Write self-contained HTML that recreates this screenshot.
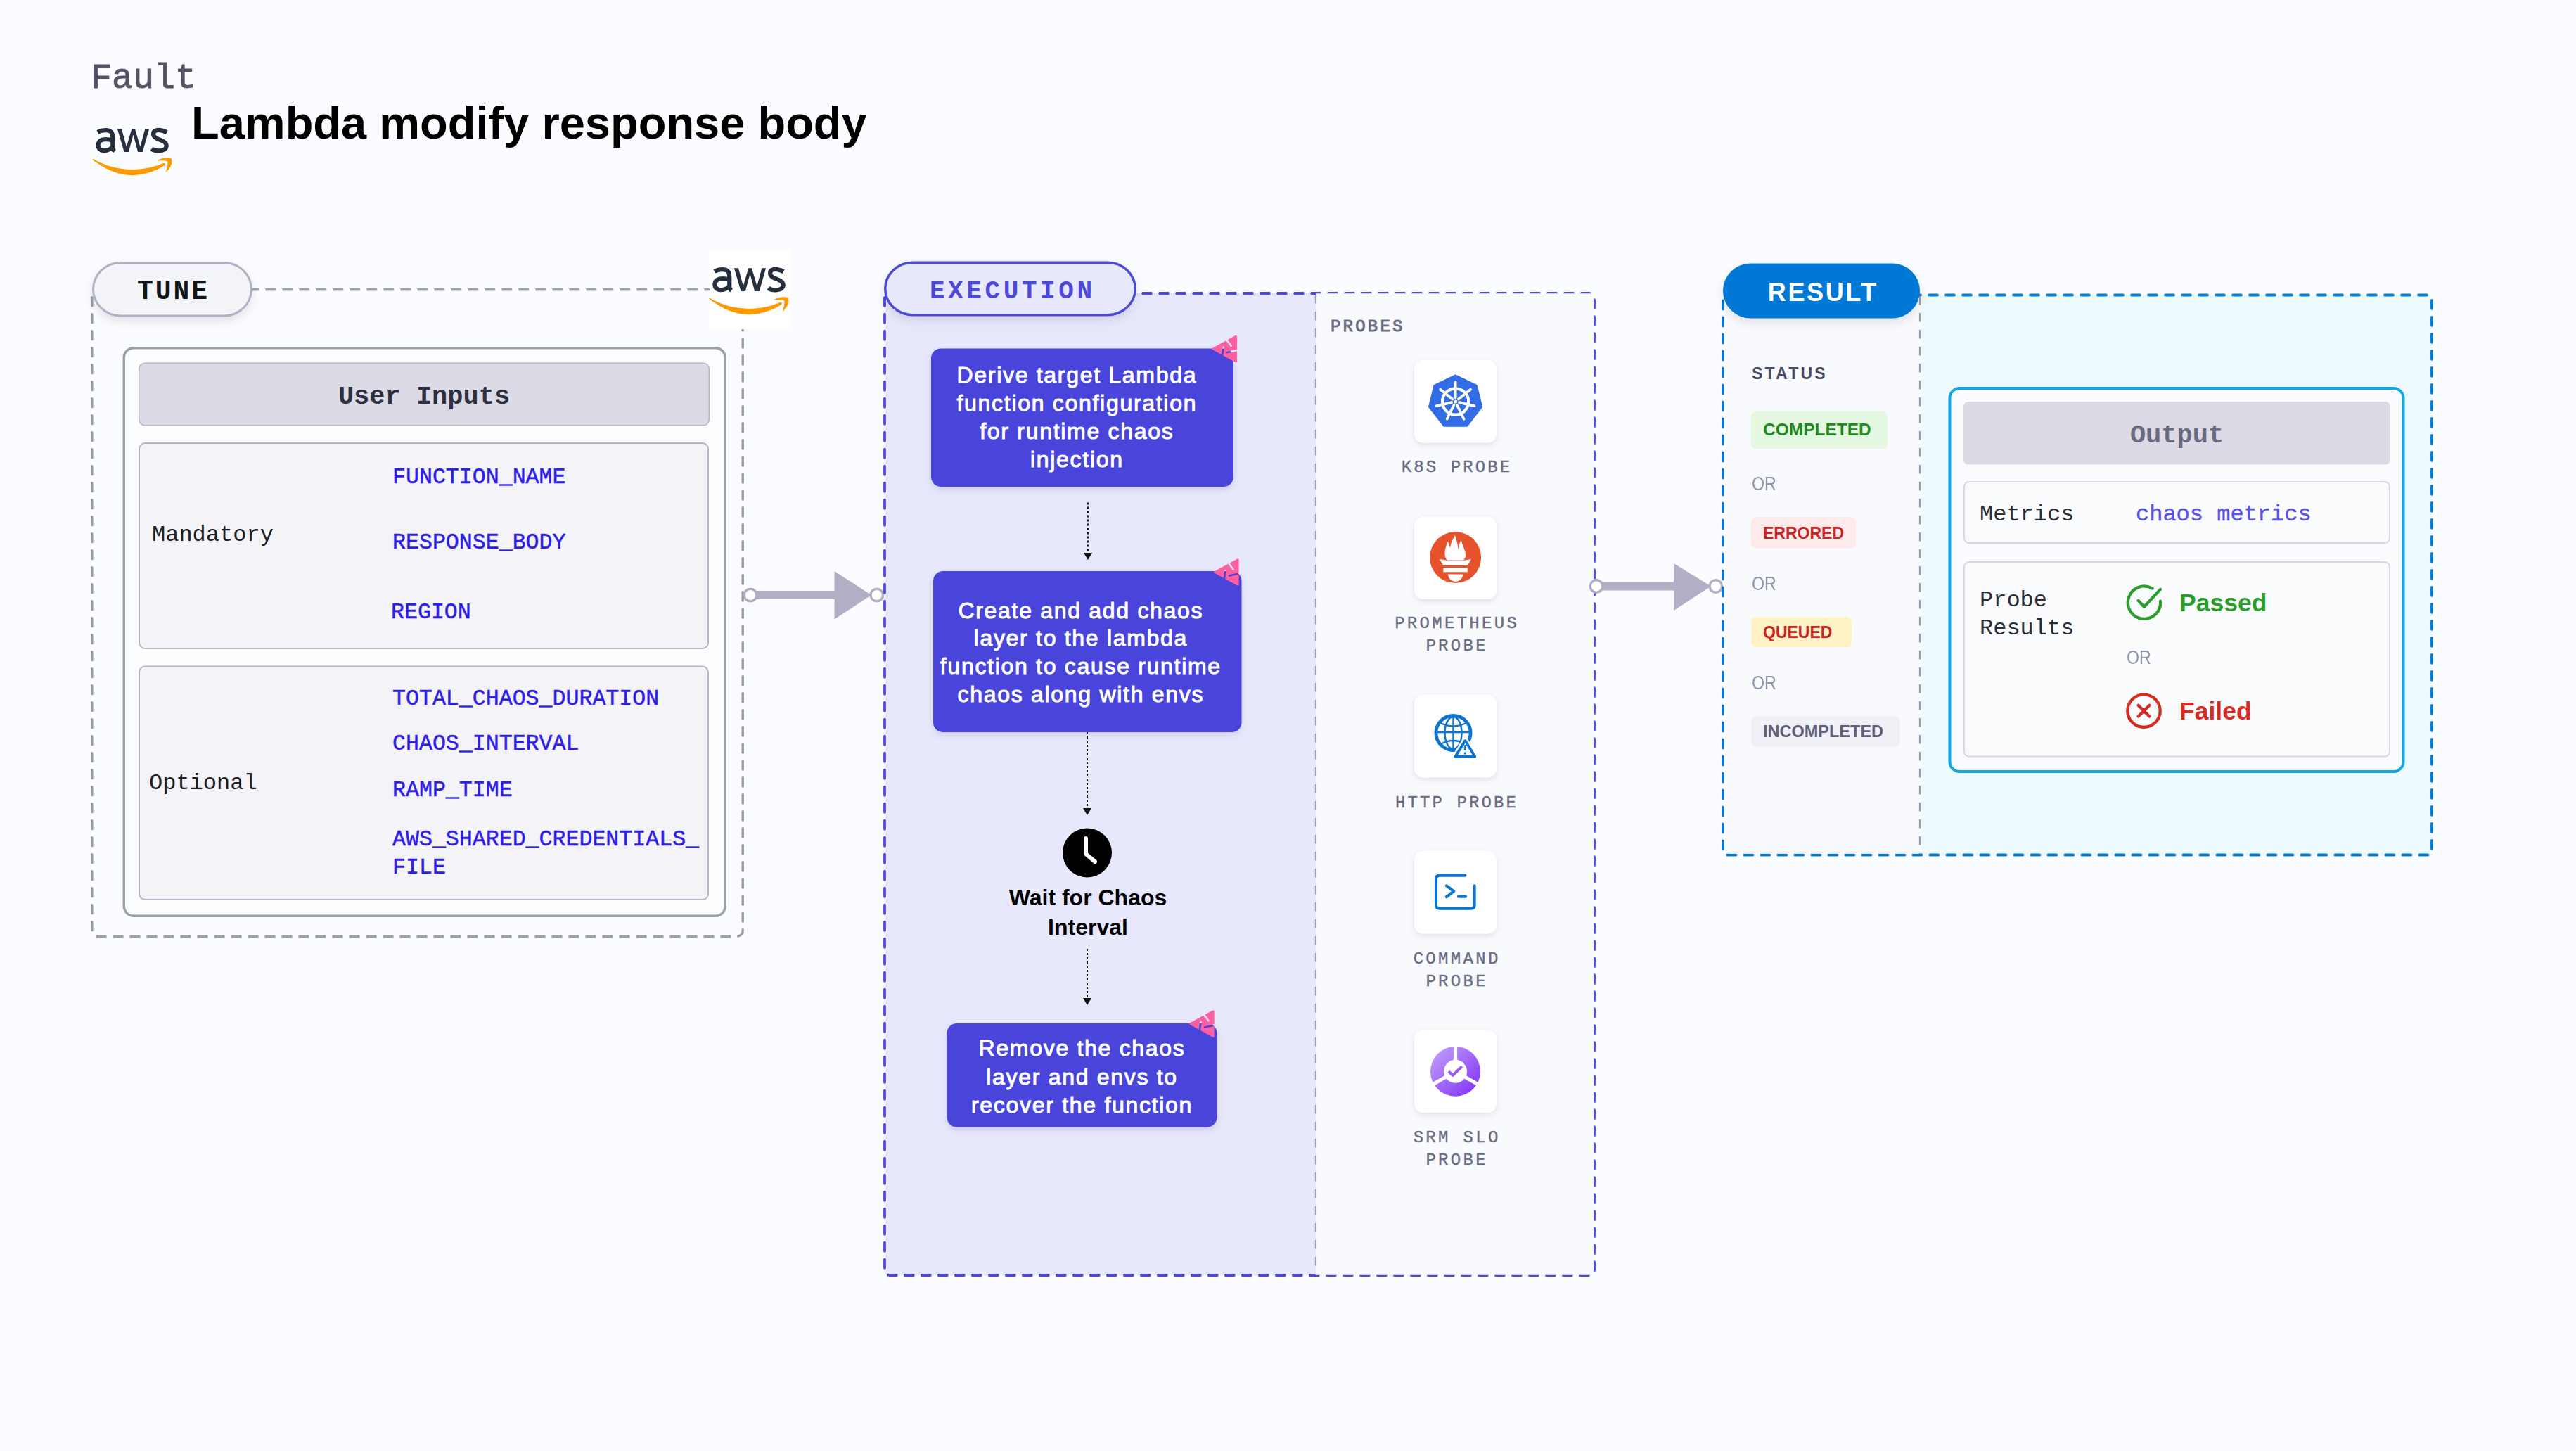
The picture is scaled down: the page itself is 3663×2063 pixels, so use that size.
<!DOCTYPE html>
<html><head><meta charset="utf-8"><title>Lambda modify response body</title>
<style>
html,body{margin:0;padding:0;}
body{width:3663px;height:2063px;background:#FBFCFF;position:relative;overflow:hidden;font-family:"Liberation Sans",sans-serif;}
svg.bg{position:absolute;left:0;top:0;}
.t{position:absolute;white-space:nowrap;}
</style></head><body>
<svg class="bg" width="3663" height="2063" viewBox="0 0 3663 2063">
<defs><filter id="sh" x="-20%" y="-30%" width="140%" height="180%"><feDropShadow dx="0" dy="6" stdDeviation="7" flood-color="#000" flood-opacity="0.10"/></filter><filter id="sh2" x="-10%" y="-10%" width="120%" height="130%"><feDropShadow dx="0" dy="4" stdDeviation="5" flood-color="#1a1060" flood-opacity="0.12"/></filter><filter id="sh3" x="-20%" y="-20%" width="140%" height="150%"><feDropShadow dx="0" dy="3" stdDeviation="4" flood-color="#000" flood-opacity="0.10"/></filter></defs>
<g transform="translate(125,175) scale(0.05513)"><g fill="none" stroke="#252F3E" stroke-width="112"><path d="M250,232 Q420,152 558,200 Q640,240 640,370 L640,640 Q645,690 690,725"/><path d="M640,445 Q500,405 385,425 Q262,455 262,580 Q268,705 420,712 Q560,705 640,610"/><path d="M2035,240 Q1885,162 1765,185 Q1680,208 1688,300 Q1705,380 1865,432 Q2030,490 2028,590 Q2015,705 1840,715 Q1720,720 1640,665"/></g><path fill="#252F3E" d="M760,150 L870,150 L995,610 L1130,150 L1215,150 L1350,610 L1475,150 L1580,150 L1410,745 L1290,745 L1170,300 L1050,745 L935,745 Z"/><path fill="#FF9900" d="M115,945 C520,1250 850,1345 1140,1345 C1450,1345 1760,1230 1975,1095 C2010,1065 1985,1020 1945,1035 C1700,1140 1450,1195 1140,1195 C800,1195 450,1110 135,920 Z"/><path fill="#FF9900" d="M1785,970 C1900,890 2060,880 2140,905 C2175,925 2170,1010 2150,1080 C2110,1170 2060,1230 2010,1270 C2040,1160 2070,1060 2050,990 C2030,960 1900,960 1785,975 Z"/></g>
<rect x="130.80" y="411.80" width="925.40" height="919.40" rx="8" fill="none" stroke="#9CA0A6" stroke-width="3.6" stroke-dasharray="12 12" stroke-linecap="round" />
<rect x="1009" y="355" width="114" height="113" fill="#FFFFFF"/><g transform="translate(1002,373) scale(0.05513)"><g fill="none" stroke="#252F3E" stroke-width="112"><path d="M250,232 Q420,152 558,200 Q640,240 640,370 L640,640 Q645,690 690,725"/><path d="M640,445 Q500,405 385,425 Q262,455 262,580 Q268,705 420,712 Q560,705 640,610"/><path d="M2035,240 Q1885,162 1765,185 Q1680,208 1688,300 Q1705,380 1865,432 Q2030,490 2028,590 Q2015,705 1840,715 Q1720,720 1640,665"/></g><path fill="#252F3E" d="M760,150 L870,150 L995,610 L1130,150 L1215,150 L1350,610 L1475,150 L1580,150 L1410,745 L1290,745 L1170,300 L1050,745 L935,745 Z"/><path fill="#FF9900" d="M115,945 C520,1250 850,1345 1140,1345 C1450,1345 1760,1230 1975,1095 C2010,1065 1985,1020 1945,1035 C1700,1140 1450,1195 1140,1195 C800,1195 450,1110 135,920 Z"/><path fill="#FF9900" d="M1785,970 C1900,890 2060,880 2140,905 C2175,925 2170,1010 2150,1080 C2110,1170 2060,1230 2010,1270 C2040,1160 2070,1060 2050,990 C2030,960 1900,960 1785,975 Z"/></g>
<rect x="132.50" y="373.50" width="225.00" height="75.50" rx="39" fill="#F3F4F8" stroke="#B1B0C6" stroke-width="3" filter="url(#sh)"/>
<rect x="176.25" y="494.75" width="855.00" height="807.50" rx="14" fill="#FCFDFE" stroke="#9AA0A6" stroke-width="3.5" />
<rect x="197.75" y="516.25" width="810.50" height="88.50" rx="8" fill="#DCDBE5" stroke="#B6B5C8" stroke-width="1.5" />
<rect x="198.00" y="630.00" width="809.00" height="292.00" rx="8" fill="#F3F3F8" stroke="#B6B5C8" stroke-width="2" />
<rect x="198.00" y="947.50" width="809.00" height="331.50" rx="8" fill="#F3F3F8" stroke="#B6B5C8" stroke-width="2" />
<rect x="1066" y="840" width="122.5" height="12" fill="#B0AFC5"/>
<path d="M1186.5,812 L1239,846 L1186.5,880.5 Z" fill="#B0AFC5"/>
<circle cx="1067" cy="846" r="8.8" fill="#FFFFFF" stroke="#B0AFC5" stroke-width="3.4"/>
<circle cx="1246.8" cy="846" r="8.8" fill="#FFFFFF" stroke="#B0AFC5" stroke-width="3.4"/>
<path d="M1264,417 L1871,417 L1871,1813 L1264,1813 Q1258,1813 1258,1807 L1258,423 Q1258,417 1264,417 Z" fill="#E8E8FD"/>
<rect x="1258.00" y="417.00" width="1009.00" height="1396.00" rx="7" fill="none" stroke="#4D48D9" stroke-width="3.8" stroke-dasharray="12 12" stroke-linecap="round" />
<path d="M1871,417.2 L2266.2,417.2 L2266.2,1805 Q2266.2,1812.7 2258,1812.7 L1871,1812.7 Z" fill="#F9FAFE"/>
<line x1="1871" y1="419" x2="1871" y2="1812" stroke="#9A9BAF" stroke-width="2.2" stroke-dasharray="12.5 11.5"/>
<rect x="1258.75" y="373.25" width="355.50" height="74.50" rx="39" fill="#E8E8FC" stroke="#4D48D9" stroke-width="3.5" filter="url(#sh)"/>
<rect x="1324.00" y="495.50" width="430.00" height="196.50" rx="14" fill="#4A45DB" stroke="none" stroke-width="0" filter="url(#sh2)"/>
<g transform="translate(1723.2,476.5) scale(1.0)"><mask id="bm1" maskUnits="userSpaceOnUse" x="-5" y="-5" width="50" height="50"><path d="M34.3,1.5 L1.5,19.5 L34.3,37.5 Z" fill="#fff" stroke="#fff" stroke-width="3" stroke-linejoin="round"/><path d="M19.5,5 L27.6,15.2 M16.6,17 L14.6,30 M22,24.4 L36,21.6" stroke="#000" stroke-width="2.6" stroke-linecap="round"/></mask><path mask="url(#bm1)" d="M34.3,1.5 L1.5,19.5 L34.3,37.5 Z" fill="#FF5EA0" stroke="#FF5EA0" stroke-width="3" stroke-linejoin="round"/></g>
<rect x="1327.00" y="812.00" width="438.50" height="229.00" rx="14" fill="#4A45DB" stroke="none" stroke-width="0" filter="url(#sh2)"/>
<g transform="translate(1726,794) scale(1.0)"><mask id="bm2" maskUnits="userSpaceOnUse" x="-5" y="-5" width="50" height="50"><path d="M34.3,1.5 L1.5,19.5 L34.3,37.5 Z" fill="#fff" stroke="#fff" stroke-width="3" stroke-linejoin="round"/><path d="M19.5,5 L27.6,15.2 M16.6,17 L14.6,30 M22,24.4 L36,21.6" stroke="#000" stroke-width="2.6" stroke-linecap="round"/></mask><path mask="url(#bm2)" d="M34.3,1.5 L1.5,19.5 L34.3,37.5 Z" fill="#FF5EA0" stroke="#FF5EA0" stroke-width="3" stroke-linejoin="round"/></g>
<rect x="1346.50" y="1455.00" width="384.00" height="147.50" rx="14" fill="#4A45DB" stroke="none" stroke-width="0" filter="url(#sh2)"/>
<g transform="translate(1691,1436) scale(1.0)"><mask id="bm3" maskUnits="userSpaceOnUse" x="-5" y="-5" width="50" height="50"><path d="M34.3,1.5 L1.5,19.5 L34.3,37.5 Z" fill="#fff" stroke="#fff" stroke-width="3" stroke-linejoin="round"/><path d="M19.5,5 L27.6,15.2 M16.6,17 L14.6,30 M22,24.4 L36,21.6" stroke="#000" stroke-width="2.6" stroke-linecap="round"/></mask><path mask="url(#bm3)" d="M34.3,1.5 L1.5,19.5 L34.3,37.5 Z" fill="#FF5EA0" stroke="#FF5EA0" stroke-width="3" stroke-linejoin="round"/></g>
<line x1="1547" y1="714.5" x2="1547" y2="788" stroke="#111" stroke-width="2" stroke-dasharray="3 3"/>
<path d="M1541,786 L1553,786 L1547,796 Z" fill="#111"/>
<line x1="1546" y1="1041" x2="1546" y2="1151" stroke="#111" stroke-width="2" stroke-dasharray="3 3"/>
<path d="M1540,1149 L1552,1149 L1546,1159 Z" fill="#111"/>
<line x1="1546" y1="1349" x2="1546" y2="1421" stroke="#111" stroke-width="2" stroke-dasharray="3 3"/>
<path d="M1540,1419 L1552,1419 L1546,1429 Z" fill="#111"/>
<circle cx="1546" cy="1212.5" r="35" fill="#000"/>
<path d="M1544,1192 L1544,1214 L1557,1225" fill="none" stroke="#fff" stroke-width="6" stroke-linecap="round" stroke-linejoin="round"/>
<rect x="2011.00" y="512.00" width="117.00" height="117.50" rx="13" fill="#FFFFFF" stroke="none" stroke-width="0" filter="url(#sh3)"/>
<rect x="2011.00" y="734.50" width="117.00" height="117.50" rx="13" fill="#FFFFFF" stroke="none" stroke-width="0" filter="url(#sh3)"/>
<rect x="2011.00" y="988.00" width="117.00" height="117.50" rx="13" fill="#FFFFFF" stroke="none" stroke-width="0" filter="url(#sh3)"/>
<rect x="2011.00" y="1210.00" width="117.00" height="117.50" rx="13" fill="#FFFFFF" stroke="none" stroke-width="0" filter="url(#sh3)"/>
<rect x="2011.00" y="1464.50" width="117.00" height="117.50" rx="13" fill="#FFFFFF" stroke="none" stroke-width="0" filter="url(#sh3)"/>
<rect x="2269" y="827.5" width="113" height="12" fill="#B0AFC5"/>
<path d="M2380,801 L2433,833.5 L2380,868 Z" fill="#B0AFC5"/>
<circle cx="2270" cy="833.5" r="8.8" fill="#FFFFFF" stroke="#B0AFC5" stroke-width="3.4"/>
<circle cx="2439.8" cy="833.5" r="8.8" fill="#FFFFFF" stroke="#B0AFC5" stroke-width="3.4"/>
<path d="M2069.6,533.1 L2099.9,547.6 L2107.5,578.6 L2086.2,606.1 L2053.1,606.1 L2031.7,578.6 L2039.3,547.6 Z" fill="#326DE6" stroke="#326DE6" stroke-width="1.5" stroke-linejoin="round"/>
<circle cx="2069.6" cy="571" r="18.6" fill="none" stroke="#fff" stroke-width="4.2"/>
<circle cx="2069.6" cy="571" r="2.6" fill="#fff"/>
<path d="M2069.60,565.50 L2069.60,543.50 M2073.90,567.57 L2091.10,553.85 M2074.96,572.22 L2096.41,577.12 M2071.99,575.96 L2081.53,595.78 M2067.21,575.96 L2057.67,595.78 M2064.24,572.22 L2042.79,577.12 M2065.30,567.57 L2048.10,553.85 " stroke="#fff" stroke-width="3.8" stroke-linecap="round"/>
<circle cx="2069.6" cy="792.6" r="36.5" fill="#E6522C"/>
<g transform="translate(2069.6,792.6)" fill="#fff"><path d="M-11.5,4 C-17,-1 -16,-10 -10.7,-23 C-9,-18 -8.2,-15 -7.5,-13.5 C-6.5,-22 -3,-27 -0.7,-31.7 C1.5,-25 3.5,-19 3.8,-11.5 C4.5,-17 6.5,-22 8.3,-25.5 C9,-17 15,-10 14.5,-2.5 C14.3,0.5 12.5,3 11.5,4 Z"/><path d="M-22.7,2.4 L-12,4.2 L12,4.2 L22.4,2.4 L17.2,11.4 L-17.2,11.4 Z"/><rect x="-17.2" y="14.5" width="34.4" height="6.2"/><path d="M-10.5,23.8 L10.5,23.8 A10.5,10.5 0 0 1 -10.5,23.8 Z"/></g>
<defs><mask id="hm"><rect x="2000" y="980" width="140" height="130" fill="#fff"/><path d="M2083.4,1053 L2069.5,1075.6 L2097.3,1075.6 Z" fill="#000" stroke="#000" stroke-width="8.6" stroke-linejoin="round"/></mask></defs>
<g mask="url(#hm)" fill="none" stroke="#0B74D2"><circle cx="2066.5" cy="1042" r="24.6" stroke-width="4.8"/><ellipse cx="2066.5" cy="1042" rx="12" ry="23" stroke-width="2.5"/><line x1="2066.5" y1="1019" x2="2066.5" y2="1066" stroke-width="2.4"/><line x1="2042.5" y1="1041" x2="2090.5" y2="1041" stroke-width="2.4"/><path d="M2048.5,1028 Q2066.5,1037 2084.5,1028" stroke-width="2.4"/><path d="M2048.5,1058 Q2066.5,1048 2084.5,1058" stroke-width="2.4"/></g>
<path d="M2083.4,1053 L2069.5,1075.6 L2097.3,1075.6 Z" fill="none" stroke="#0B74D2" stroke-width="3.8" stroke-linejoin="round"/>
<line x1="2083.3" y1="1059" x2="2083.3" y2="1067" stroke="#0B74D2" stroke-width="3"/>
<circle cx="2083.3" cy="1071" r="1.8" fill="#0B74D2"/>
<path d="M2083.4,1244.6 L2047,1244.6 Q2042,1244.6 2042,1249.6 L2042,1286.7 Q2042,1291.7 2047,1291.7 L2091.6,1291.7 Q2096.6,1291.7 2096.6,1286.7 L2096.6,1259.3" fill="none" stroke="#0B74D2" stroke-width="4.1" stroke-linecap="round"/>
<path d="M2057,1259.3 L2067.2,1267.2 L2057,1275.2" fill="none" stroke="#0B74D2" stroke-width="4.1" stroke-linecap="round" stroke-linejoin="round"/>
<path d="M2073.8,1274.8 L2084.1,1274.8" fill="none" stroke="#0B74D2" stroke-width="4.1" stroke-linecap="round"/>
<defs><linearGradient id="srg" x1="0" y1="0" x2="1" y2="1"><stop offset="0" stop-color="#C4A6FC"/><stop offset="1" stop-color="#7F2AF6"/></linearGradient></defs>
<circle cx="2069.5" cy="1523.3" r="35.5" fill="url(#srg)"/>
<circle cx="2069.5" cy="1523.3" r="16.5" fill="#fff"/>
<path d="M2069.50,1523.30 L2069.50,1483.30 M2069.50,1523.30 L2104.14,1543.30 M2069.50,1523.30 L2034.86,1543.30 " stroke="#fff" stroke-width="5.2"/>
<path d="M2061,1524.3 L2065.8,1528.8 L2077.5,1517.5" fill="none" stroke="#9A5AF8" stroke-width="4" stroke-linecap="round" stroke-linejoin="round"/>
<path d="M2730,419.5 L3453,419.5 Q3458,419.5 3458,424.5 L3458,1210.5 Q3458,1215.5 3453,1215.5 L2730,1215.5 Z" fill="#EDFAFE"/>
<rect x="2450.00" y="419.50" width="1008.00" height="796.00" rx="5" fill="none" stroke="#0278D5" stroke-width="3.8" stroke-dasharray="12 12" stroke-linecap="round" />
<path d="M2451.8,421.2 L2730,421.2 L2730,1213.7 L2459,1213.7 Q2451.8,1213.7 2451.8,1206 Z" fill="#F9FAFE"/>
<line x1="2730" y1="421" x2="2730" y2="1214" stroke="#9A9BAF" stroke-width="2.2" stroke-dasharray="12.5 11.5"/>
<rect x="2450.00" y="374.50" width="280.00" height="78.00" rx="39" fill="#0278D5" stroke="none" stroke-width="0" filter="url(#sh)"/>
<rect x="2490.00" y="585.00" width="194.00" height="53.00" rx="7" fill="#E4F7E1" stroke="none" stroke-width="0" />
<rect x="2490.00" y="735.00" width="149.00" height="44.50" rx="7" fill="#FDEBEB" stroke="none" stroke-width="0" />
<rect x="2490.00" y="877.00" width="143.00" height="43.50" rx="7" fill="#FFF2C6" stroke="none" stroke-width="0" />
<rect x="2490.00" y="1018.50" width="212.00" height="43.00" rx="7" fill="#F0F0F6" stroke="none" stroke-width="0" />
<rect x="2772.50" y="552.00" width="645.00" height="545.00" rx="14" fill="#FBFCFE" stroke="#12A7E0" stroke-width="4" />
<rect x="2792.00" y="571.00" width="607.00" height="89.50" rx="7" fill="#DCDBE5" stroke="none" stroke-width="0" />
<rect x="2793.00" y="685.00" width="605.00" height="87.00" rx="7" fill="#FBFCFE" stroke="#D8D8E2" stroke-width="2" />
<rect x="2793.00" y="799.00" width="605.00" height="276.50" rx="7" fill="#FBFCFE" stroke="#D8D8E2" stroke-width="2" />
<path d="M3060.6,836.6 A23.2,23.2 0 1 0 3072.1,854.7" fill="none" stroke="#2A9E2A" stroke-width="4.2" stroke-linecap="round"/>
<path d="M3040.6,853.9 L3048.9,862.7 L3072,837.9" fill="none" stroke="#2A9E2A" stroke-width="4.2" stroke-linecap="round" stroke-linejoin="round"/>
<circle cx="3048.5" cy="1010.7" r="23.2" fill="none" stroke="#DA2A1F" stroke-width="4.2"/>
<path d="M3040.6,1002.8 L3056.4,1018.6 M3056.4,1002.8 L3040.6,1018.6" fill="none" stroke="#DA2A1F" stroke-width="4.2" stroke-linecap="round"/>
</svg>
<div class="t" style="top:80.94px;font-family:'Liberation Mono', monospace;font-size:50px;line-height:62.5px;color:#545268;font-weight:400;left:129.00px;-webkit-text-stroke:0.9px #545268;">Fault</div>
<div class="t" style="top:133.84px;font-family:'Liberation Sans', sans-serif;font-size:65px;line-height:81.25px;color:#000000;font-weight:700;left:272.00px;">Lambda modify response body</div>
<div class="t" style="top:390.64px;font-family:'Liberation Mono', monospace;font-size:38px;line-height:47.5px;color:#111418;font-weight:700;letter-spacing:3px;left:96.50px;width:300px;text-align:center;">TUNE</div>
<div class="t" style="top:540.53px;font-family:'Liberation Mono', monospace;font-size:37px;line-height:46.25px;color:#2E2F40;font-weight:700;left:303.00px;width:600px;text-align:center;">User Inputs</div>
<div class="t" style="top:741.28px;font-family:'Liberation Mono', monospace;font-size:32px;line-height:40.0px;color:#1E1F24;font-weight:400;left:216.00px;">Mandatory</div>
<div class="t" style="top:658.94px;font-family:'Liberation Mono', monospace;font-size:31.6px;line-height:39.5px;color:#2E1CEB;font-weight:400;left:558.00px;-webkit-text-stroke:0.5px currentColor;">FUNCTION_NAME</div>
<div class="t" style="top:751.74px;font-family:'Liberation Mono', monospace;font-size:31.6px;line-height:39.5px;color:#2E1CEB;font-weight:400;left:558.00px;-webkit-text-stroke:0.5px currentColor;">RESPONSE_BODY</div>
<div class="t" style="top:851.44px;font-family:'Liberation Mono', monospace;font-size:31.6px;line-height:39.5px;color:#2E1CEB;font-weight:400;left:556.00px;-webkit-text-stroke:0.5px currentColor;">REGION</div>
<div class="t" style="top:1094.18px;font-family:'Liberation Mono', monospace;font-size:32px;line-height:40.0px;color:#1E1F24;font-weight:400;left:212.00px;">Optional</div>
<div class="t" style="top:974.44px;font-family:'Liberation Mono', monospace;font-size:31.6px;line-height:39.5px;color:#2E1CEB;font-weight:400;left:558.00px;-webkit-text-stroke:0.5px currentColor;">TOTAL_CHAOS_DURATION</div>
<div class="t" style="top:1038.44px;font-family:'Liberation Mono', monospace;font-size:31.6px;line-height:39.5px;color:#2E1CEB;font-weight:400;left:558.00px;-webkit-text-stroke:0.5px currentColor;">CHAOS_INTERVAL</div>
<div class="t" style="top:1103.64px;font-family:'Liberation Mono', monospace;font-size:31.6px;line-height:39.5px;color:#2E1CEB;font-weight:400;left:558.00px;-webkit-text-stroke:0.5px currentColor;">RAMP_TIME</div>
<div class="t" style="top:1173.74px;font-family:'Liberation Mono', monospace;font-size:31.6px;line-height:40.5px;color:#2E1CEB;font-weight:400;left:558.00px;-webkit-text-stroke:0.5px currentColor;">AWS_SHARED_CREDENTIALS_<br>FILE</div>
<div class="t" style="top:392.12px;font-family:'Liberation Mono', monospace;font-size:36px;line-height:45.0px;color:#4D48D9;font-weight:700;letter-spacing:4.6px;left:1189.80px;width:500px;text-align:center;">EXECUTION</div>
<div class="t" style="top:512.61px;font-family:'Liberation Sans', sans-serif;font-size:32px;line-height:40.2px;color:#FFFFFF;font-weight:400;letter-spacing:1.7px;left:1281.35px;width:500px;text-align:center;-webkit-text-stroke:1.0px #fff;">Derive target Lambda<br>function configuration<br>for runtime chaos<br>injection</div>
<div class="t" style="top:848.51px;font-family:'Liberation Sans', sans-serif;font-size:32px;line-height:39.8px;color:#FFFFFF;font-weight:400;letter-spacing:1.7px;left:1286.85px;width:500px;text-align:center;-webkit-text-stroke:1.0px #fff;">Create and add chaos<br>layer to the lambda<br>function to cause runtime<br>chaos along with envs</div>
<div class="t" style="top:1470.41px;font-family:'Liberation Sans', sans-serif;font-size:32px;line-height:40.2px;color:#FFFFFF;font-weight:400;letter-spacing:1.7px;left:1288.55px;width:500px;text-align:center;-webkit-text-stroke:1.0px #fff;">Remove the chaos<br>layer and envs to<br>recover the function</div>
<div class="t" style="top:1256.01px;font-family:'Liberation Sans', sans-serif;font-size:32px;line-height:41.8px;color:#000000;font-weight:700;left:1297.00px;width:500px;text-align:center;">Wait for Chaos<br>Interval</div>
<div class="t" style="top:449.61px;font-family:'Liberation Mono', monospace;font-size:24px;line-height:30.0px;color:#6B6C84;font-weight:400;letter-spacing:3.2px;left:1892.00px;-webkit-text-stroke:0.9px currentColor;">PROBES</div>
<div class="t" style="top:649.61px;font-family:'Liberation Mono', monospace;font-size:24px;line-height:30.0px;color:#6B6C84;font-weight:400;letter-spacing:3.1px;left:1871.55px;width:400px;text-align:center;-webkit-text-stroke:0.4px currentColor;">K8S PROBE</div>
<div class="t" style="top:871.21px;font-family:'Liberation Mono', monospace;font-size:24px;line-height:32px;color:#6B6C84;font-weight:400;letter-spacing:3.3px;left:1871.65px;width:400px;text-align:center;-webkit-text-stroke:0.4px currentColor;">PROMETHEUS<br>PROBE</div>
<div class="t" style="top:1127.21px;font-family:'Liberation Mono', monospace;font-size:24px;line-height:30.0px;color:#6B6C84;font-weight:400;letter-spacing:3.1px;left:1871.55px;width:400px;text-align:center;-webkit-text-stroke:0.4px currentColor;">HTTP PROBE</div>
<div class="t" style="top:1348.01px;font-family:'Liberation Mono', monospace;font-size:24px;line-height:32px;color:#6B6C84;font-weight:400;letter-spacing:3.3px;left:1871.65px;width:400px;text-align:center;-webkit-text-stroke:0.4px currentColor;">COMMAND<br>PROBE</div>
<div class="t" style="top:1601.61px;font-family:'Liberation Mono', monospace;font-size:24px;line-height:32px;color:#6B6C84;font-weight:400;letter-spacing:3.3px;left:1871.65px;width:400px;text-align:center;-webkit-text-stroke:0.4px currentColor;">SRM SLO<br>PROBE</div>
<div class="t" style="top:393.02px;font-family:'Liberation Sans', sans-serif;font-size:36px;line-height:45.0px;color:#FFFFFF;font-weight:700;letter-spacing:2.6px;left:2392.30px;width:400px;text-align:center;">RESULT</div>
<div class="t" style="top:517.45px;font-family:'Liberation Sans', sans-serif;font-size:23px;line-height:28.75px;color:#4A4B63;font-weight:700;letter-spacing:3.2px;left:2491.00px;">STATUS</div>
<div class="t" style="top:596.19px;font-family:'Liberation Sans', sans-serif;font-size:24.5px;line-height:30.625px;color:#1E8A1E;font-weight:700;left:2507.00px;">COMPLETED</div>
<div class="t" style="top:743.65px;font-family:'Liberation Sans', sans-serif;font-size:23px;line-height:28.75px;color:#CC2222;font-weight:700;left:2507.00px;">ERRORED</div>
<div class="t" style="top:884.95px;font-family:'Liberation Sans', sans-serif;font-size:23px;line-height:28.75px;color:#CC2222;font-weight:700;left:2507.00px;">QUEUED</div>
<div class="t" style="top:1025.87px;font-family:'Liberation Sans', sans-serif;font-size:23.5px;line-height:29.375px;color:#5F6079;font-weight:700;left:2507.00px;">INCOMPLETED</div>
<div class="t" style="top:671.76px;font-family:'Liberation Sans', sans-serif;font-size:27px;line-height:33.75px;color:#9192AB;font-weight:400;left:2491.00px;transform:scaleX(0.86);transform-origin:0 0;">OR</div>
<div class="t" style="top:814.06px;font-family:'Liberation Sans', sans-serif;font-size:27px;line-height:33.75px;color:#9192AB;font-weight:400;left:2491.00px;transform:scaleX(0.86);transform-origin:0 0;">OR</div>
<div class="t" style="top:954.76px;font-family:'Liberation Sans', sans-serif;font-size:27px;line-height:33.75px;color:#9192AB;font-weight:400;left:2491.00px;transform:scaleX(0.86);transform-origin:0 0;">OR</div>
<div class="t" style="top:596.33px;font-family:'Liberation Mono', monospace;font-size:37px;line-height:46.25px;color:#6A6B83;font-weight:700;left:2895.50px;width:400px;text-align:center;">Output</div>
<div class="t" style="top:712.48px;font-family:'Liberation Mono', monospace;font-size:32px;line-height:40.0px;color:#2C2D3A;font-weight:400;left:2815.00px;">Metrics</div>
<div class="t" style="top:712.48px;font-family:'Liberation Mono', monospace;font-size:32px;line-height:40.0px;color:#5A50EE;font-weight:400;left:3037.00px;-webkit-text-stroke:0.4px currentColor;">chaos metrics</div>
<div class="t" style="top:833.78px;font-family:'Liberation Mono', monospace;font-size:32px;line-height:40.4px;color:#2C2D3A;font-weight:400;left:2815.00px;">Probe<br>Results</div>
<div class="t" style="top:835.10px;font-family:'Liberation Sans', sans-serif;font-size:35.5px;line-height:44.375px;color:#2A9E2A;font-weight:700;left:3099.00px;">Passed</div>
<div class="t" style="top:919.16px;font-family:'Liberation Sans', sans-serif;font-size:27px;line-height:33.75px;color:#9192AB;font-weight:400;left:3024.00px;transform:scaleX(0.86);transform-origin:0 0;">OR</div>
<div class="t" style="top:989.30px;font-family:'Liberation Sans', sans-serif;font-size:35.5px;line-height:44.375px;color:#DA2A1F;font-weight:700;left:3099.00px;">Failed</div>
</body></html>
